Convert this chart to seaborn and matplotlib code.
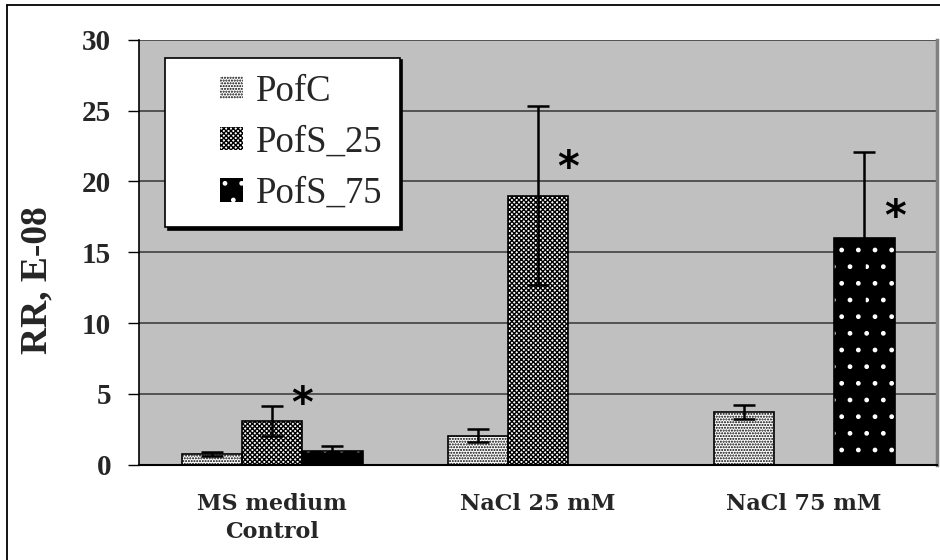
import matplotlib
matplotlib.use("Agg")
import matplotlib.pyplot as plt
import seaborn as sns
import pandas as pd
from matplotlib.patches import Patch, Rectangle
from matplotlib.legend_handler import HandlerPatch
from matplotlib.lines import Line2D

categories = ["MS medium\nControl", "NaCl 25 mM", "NaCl 75 mM"]
series = ["PofC", "PofS_25", "PofS_75"]
pofc = [0.75, 2.05, 3.75]
pofs25 = [3.1, 19.0, 0.0]
pofs75 = [1.0, 0.0, 16.0]
err_pofc = [0.15, 0.45, 0.5]
err_pofs25 = [1.05, 6.3, 0.0]
err_pofs75 = [0.35, 0.0, 6.1]
star_heights = [4.2, 20.9, 17.4]   # asterisk positions (value units)
star_series = ["PofS_25", "PofS_25", "PofS_75"]
yticks = [0, 5, 10, 15, 20, 25, 30]

values = {"PofC": pofc, "PofS_25": pofs25, "PofS_75": pofs75}
errors = {"PofC": err_pofc, "PofS_25": err_pofs25, "PofS_75": err_pofs75}
rows = []
for s in series:
    for c, v in zip(categories, values[s]):
        rows.append({"cat": c, "series": s, "val": v})
df = pd.DataFrame(rows)

sns.set_style("white")
plt.rcParams["hatch.linewidth"] = 1.0

fig = plt.figure(figsize=(9.4, 5.6), dpi=100)
ax = fig.add_axes([0.148, 0.170, 0.849, 0.759])
ax.set_facecolor("#C0C0C0")

sns.barplot(data=df, x="cat", y="val", hue="series", order=categories,
            hue_order=series, width=0.68, errorbar=None, legend=False, ax=ax)

styles = {
    "PofC": dict(fc="white", ec="black", hatch="......"),
    "PofS_25": dict(fc="white", ec="black", hatch="xxxxxxx"),
    "PofS_75": dict(fc="black", ec="white", hatch="."),
}

for s, cont in zip(series, ax.containers):
    st = styles[s]
    for i, p in enumerate(cont.patches):
        v = values[s][i]
        p.set_facecolor(st["fc"])
        p.set_edgecolor(st["ec"])
        p.set_hatch(st["hatch"])
        p.set_linewidth(0)
        if v <= 0:
            p.set_visible(False)
            continue
        ax.add_patch(Rectangle(p.get_xy(), p.get_width(), p.get_height(),
                               fill=False, ec="black", lw=1.2, zorder=p.get_zorder() + 0.1))
        xc = p.get_x() + p.get_width() / 2
        e = errors[s][i]
        if e > 0:
            ax.errorbar([xc], [v], yerr=[[e], [e]], fmt="none", ecolor="black",
                        elinewidth=1.8, capsize=8, capthick=1.8, zorder=5)

for i, (h, s) in enumerate(zip(star_heights, star_series)):
    p = ax.containers[series.index(s)].patches[i]
    xs = p.get_x() + p.get_width() * 1.0
    ax.text(xs, h, "*", ha="center", va="center", fontsize=30, fontweight="bold",
            family="DejaVu Sans", color="black", zorder=6)

ax.set_ylim(0, 30)
ax.set_yticks(yticks)
ax.yaxis.grid(True, color="#4a4a4a", lw=1.3)
ax.set_axisbelow(True)
ax.set_xlim(-0.5, 2.5)

ax.spines["top"].set_visible(False)
ax.spines["right"].set_color("#808080")
ax.spines["right"].set_linewidth(2.5)
ax.spines["left"].set_color("black")
ax.spines["left"].set_linewidth(1.2)
ax.spines["bottom"].set_color("black")
ax.spines["bottom"].set_linewidth(1.5)

ax.tick_params(axis="y", which="major", direction="out", length=8, width=1,
               color="black", left=True, pad=12)
ax.tick_params(axis="x", length=0, pad=20)
for lab in ax.get_yticklabels():
    lab.set_fontfamily("Liberation Serif")
    lab.set_fontweight("bold")
    lab.set_fontsize(21)
for lab in ax.get_xticklabels():
    lab.set_fontfamily("DejaVu Serif")
    lab.set_fontweight("bold")
    lab.set_fontsize(16)
    lab.set_linespacing(1.35)

ax.set_xlabel("")
ax.set_ylabel("RR, E-08", fontfamily="Liberation Serif", fontweight="bold",
              fontsize=27, labelpad=20)
ax.yaxis.label.set_y(0.435)


def square_handle(legend, orig_handle, xdescent, ydescent, width, height, fontsize):
    sq = fontsize * 0.63
    return Rectangle((-xdescent + width - sq, -ydescent + (height - sq) / 2), sq, sq)


handles = [Patch(facecolor=styles[s]["fc"], edgecolor=styles[s]["ec"],
                 hatch=styles[s]["hatch"], lw=0) for s in series]
leg = ax.legend(handles, series, loc="upper left", bbox_to_anchor=(0.033, 0.958),
                borderaxespad=0, frameon=True, fancybox=False,
                shadow={"color": "black", "alpha": 1.0},
                prop={"family": "Liberation Serif", "size": 26.5},
                handler_map={Patch: HandlerPatch(patch_func=square_handle)},
                handlelength=1.67, handleheight=0.7, handletextpad=0.35,
                labelspacing=0.45, borderpad=0.45)
leg.get_frame().set_edgecolor("black")
leg.get_frame().set_linewidth(1.2)
leg.get_frame().set_facecolor("white")

# outer chart border (left and top edges visible in the reference)
fig.add_artist(Line2D([0.0075, 0.0075], [0.0, 0.991], transform=fig.transFigure,
                      color="black", lw=1.3))
fig.add_artist(Line2D([0.0075, 1.0], [0.991, 0.991], transform=fig.transFigure,
                      color="black", lw=1.3))

fig.savefig("out.png", dpi=100)
